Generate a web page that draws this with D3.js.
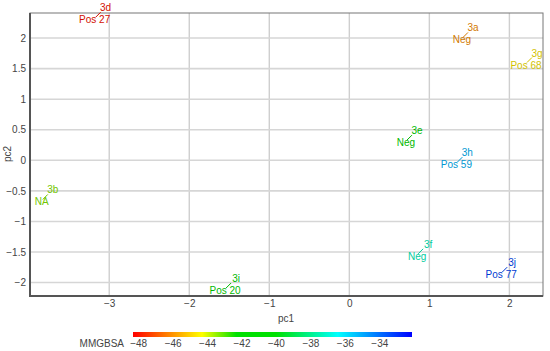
<!DOCTYPE html>
<html>
<head>
  <meta charset="utf-8">
  <style>
    body { margin: 0; background: white; }
    text { font-family: "Liberation Sans", Arial, sans-serif; }
  </style>
</head>
<body>
  <script src="https://d3js.org/d3.v7.min.js"></script>
  <script>
    // compounds
    var names  = ["3d", "3a", "3g", "3b", "3e", "3h", "3f", "3j", "3i"];
    var tags   = ["Pos 27", "Neg", "Pos 68", "NA", "Neg", "Pos 59", "Neg", "Pos 77", "Pos 20"];
    var pc1    = [-3.17, 1.42, 2.22, -3.83, 0.72, 1.35, 0.86, 1.91, -1.54];
    var pc2    = [2.34, 2.01, 1.60, -0.64, 0.33, -0.03, -1.53, -1.83, -2.09];
    var mmgbsa = [-48, -46, -44.6, -43.4, -40, -35.2, -37.3, -33.3, -41];

    var xTicks = [-3, -2, -1, 0, 1, 2];
    var yTicks = [-2, -1.5, -1, -0.5, 0, 0.5, 1, 1.5, 2];
    var cTicks = [-48, -46, -44, -42, -40, -38, -36, -34];

    var width = 550, height = 351;
    var m = {left: 30, right: 7, top: 13, bottom: 55};

    var svg = d3.select("body").append("svg")
        .attr("width", width).attr("height", height);

    var x = d3.scaleLinear().domain([-3.99, 2.42]).range([m.left, width - m.right]);
    var y = d3.scaleLinear().domain([-2.22, 2.41]).range([height - m.bottom, m.top]);

    var color = d3.scaleLinear()
        .domain([-48.3, -46.3, -44.3, -42.3, -40, -36.4, -32.1])
        .range(["#ff0000", "#ff8000", "#ffff00", "#00e000", "#00e000", "#00ffff", "#0000ff"]);
    var ink = (d, i) => d3.color(color(mmgbsa[i])).darker(0.55);

    // grid
    svg.append("g").selectAll("line").data(xTicks).enter().append("line")
        .attr("x1", d => x(d)).attr("x2", d => x(d))
        .attr("y1", y.range()[1]).attr("y2", y.range()[0])
        .attr("stroke", "#cfcfcf").attr("stroke-width", 1.4);
    svg.append("g").selectAll("line").data(yTicks).enter().append("line")
        .attr("y1", d => y(d)).attr("y2", d => y(d))
        .attr("x1", x.range()[0]).attr("x2", x.range()[1])
        .attr("stroke", "#d6d6d6").attr("stroke-width", 1.6);

    // frame
    svg.append("rect")
        .attr("x", x.range()[0]).attr("y", y.range()[1])
        .attr("width", x.range()[1] - x.range()[0])
        .attr("height", y.range()[0] - y.range()[1])
        .attr("fill", "none").attr("stroke", "#777").attr("stroke-width", 1);
    svg.append("path")
        .attr("d", "M" + x.range()[0] + "," + y.range()[1] + "V" + y.range()[0] + "H" + x.range()[1])
        .attr("fill", "none").attr("stroke", "#555").attr("stroke-width", 2);

    // axes
    var xAxis = svg.append("g")
        .attr("transform", "translate(0," + y.range()[0] + ")")
        .call(d3.axisBottom(x).tickValues(xTicks).tickSize(0).tickPadding(4).tickFormat(d3.format("")));
    var yAxis = svg.append("g")
        .attr("transform", "translate(" + x.range()[0] + ",0)")
        .call(d3.axisLeft(y).tickValues(yTicks).tickSize(0).tickPadding(4).tickFormat(d3.format("")));
    [xAxis, yAxis].forEach(function(a) {
      a.select(".domain").remove();
      a.selectAll("text").attr("fill", "#444").style("font-size", "10px")
        .style("font-family", "'Liberation Sans', Arial, sans-serif");
    });

    svg.append("text").attr("x", 286).attr("y", 322)
        .attr("text-anchor", "middle").attr("fill", "#444").style("font-size", "10px").text("pc1");
    svg.append("text").attr("transform", "translate(11,154) rotate(-90)")
        .attr("text-anchor", "middle").attr("fill", "#444").style("font-size", "10px").text("pc2");

    // labelled points
    var pts = svg.append("g").selectAll("g").data(names).enter().append("g")
        .attr("transform", (d, i) => "translate(" + x(pc1[i]) + "," + y(pc2[i]) + ")")
        .attr("fill", ink);
    pts.append("line")
        .attr("x1", 0).attr("y1", 0).attr("x2", 5).attr("y2", -5)
        .attr("stroke", ink).attr("stroke-width", 1);
    pts.append("text").attr("x", 10).attr("y", -6)
        .attr("text-anchor", "middle").style("font-size", "10px").text(d => d);
    pts.append("text").attr("x", -1).attr("y", 6)
        .attr("text-anchor", "middle").style("font-size", "10px").text((d, i) => tags[i]);

    // colorbar
    var cx = d3.scaleLinear().domain([-48.3, -32.1]).range([133, 412]);
    var grad = svg.append("defs").append("linearGradient").attr("id", "cbar");
    color.domain().forEach(function(v) {
      grad.append("stop")
        .attr("offset", (cx(v) - 133) / (412 - 133))
        .attr("stop-color", color(v));
    });
    svg.append("rect").attr("x", 133).attr("y", 332).attr("width", 279).attr("height", 5)
        .attr("fill", "url(#cbar)");
    var cAxis = svg.append("g").attr("transform", "translate(0,337)")
        .call(d3.axisBottom(cx).tickValues(cTicks).tickSize(0).tickPadding(3).tickFormat(d3.format("")));
    cAxis.select(".domain").remove();
    cAxis.selectAll("text").attr("fill", "#444").style("font-size", "10px")
        .style("font-family", "'Liberation Sans', Arial, sans-serif");
    svg.append("text").attr("x", 124).attr("y", 347)
        .attr("text-anchor", "end").attr("fill", "#444").style("font-size", "10px").text("MMGBSA");
  </script>
</body>
</html>
